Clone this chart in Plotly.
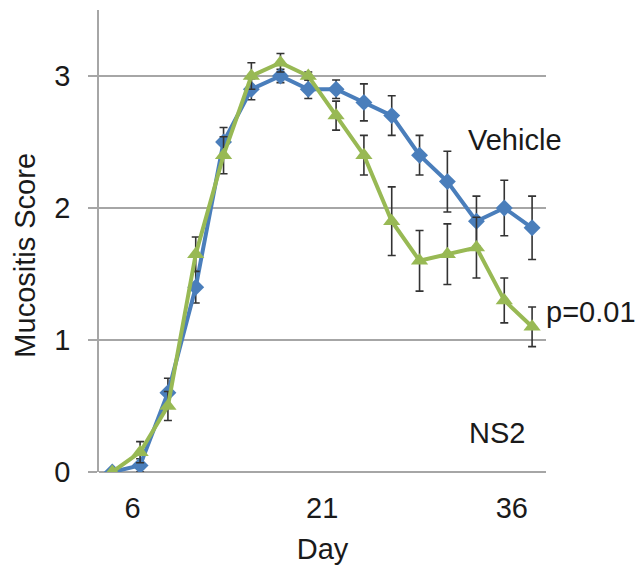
import plotly.graph_objects as go

# Data
days = [4.4, 6.6, 8.8, 11.0, 13.2, 15.4, 17.7, 19.9, 22.1, 24.3, 26.5, 28.7, 30.9, 33.2, 35.4, 37.6]
vehicle = [0.0, 0.05, 0.6, 1.4, 2.5, 2.9, 3.0, 2.9, 2.9, 2.8, 2.7, 2.4, 2.2, 1.9, 2.0, 1.85]
vehicle_err = [0.0, 0.05, 0.11, 0.12, 0.11, 0.08, 0.05, 0.07, 0.07, 0.14, 0.15, 0.15, 0.23, 0.19, 0.21, 0.24]
ns2 = [0.0, 0.15, 0.5, 1.65, 2.4, 3.0, 3.1, 3.0, 2.7, 2.4, 1.9, 1.6, 1.65, 1.7, 1.3, 1.1]
ns2_err = [0.0, 0.08, 0.11, 0.13, 0.14, 0.1, 0.07, 0.03, 0.11, 0.15, 0.26, 0.23, 0.23, 0.23, 0.17, 0.15]
x_ticks = [6, 21, 36]
y_ticks = [0, 1, 2, 3]

FONT = "Liberation Sans, Arial, sans-serif"
FS = 29

fig = go.Figure()
fig.add_trace(go.Scatter(
    x=days, y=vehicle, mode="lines+markers", name="Vehicle",
    line=dict(color="#4A7EBB", width=4),
    marker=dict(symbol="diamond", size=13, color="#4A7EBB"),
    error_y=dict(type="data", array=vehicle_err, visible=True, color="#333333", thickness=1.6, width=4),
))
fig.add_trace(go.Scatter(
    x=days, y=ns2, mode="lines+markers", name="NS2",
    line=dict(color="#98B954", width=4),
    marker=dict(symbol="triangle-up", size=15, color="#98B954"),
    error_y=dict(type="data", array=ns2_err, visible=True, color="#333333", thickness=1.6, width=4),
))

fig.update_layout(
    width=639, height=565,
    margin=dict(l=99, r=93, t=10, b=93),
    plot_bgcolor="white", paper_bgcolor="white",
    showlegend=False,
    font=dict(family=FONT, size=FS, color="#1a1a1a"),
    xaxis=dict(
        range=[3.35, 38.7], tickvals=x_ticks, ticktext=[str(v) for v in x_ticks],
        showgrid=False, zeroline=False, showline=False, ticks="",
        ticklabelstandoff=16, automargin=False,
        title=dict(text="Day", font=dict(size=FS), standoff=17),
    ),
    yaxis=dict(
        range=[0, 3.5], tickvals=y_ticks, ticktext=[str(v) for v in y_ticks],
        showgrid=True, gridcolor="#a6a6a6", gridwidth=1.5,
        zeroline=True, zerolinecolor="#a6a6a6", zerolinewidth=1.5,
        showline=True, linecolor="#a6a6a6", linewidth=1.5,
        ticks="outside", ticklen=9, tickcolor="#a6a6a6", tickwidth=1.5,
        ticklabelstandoff=12, automargin=False,
    ),
)

# y-axis title as rotated annotation (placed slightly below centre, as in the reference)
fig.add_annotation(xref="paper", yref="paper", x=-0.166, y=0.47, text="Mucositis Score", textangle=-90,
                   showarrow=False, xanchor="center", yanchor="middle", font=dict(size=FS))
# annotation positions in paper fractions of the plot area
fig.add_annotation(xref="paper", yref="paper", x=0.93, y=0.718, text="Vehicle", showarrow=False,
                   xanchor="center", yanchor="middle", font=dict(size=FS))
fig.add_annotation(xref="paper", yref="paper", x=1.1, y=0.346, text="p=0.01", showarrow=False,
                   xanchor="center", yanchor="middle", font=dict(size=FS))
fig.add_annotation(xref="paper", yref="paper", x=0.89, y=0.085, text="NS2", showarrow=False,
                   xanchor="center", yanchor="middle", font=dict(size=FS))

fig.write_html("out.html")
